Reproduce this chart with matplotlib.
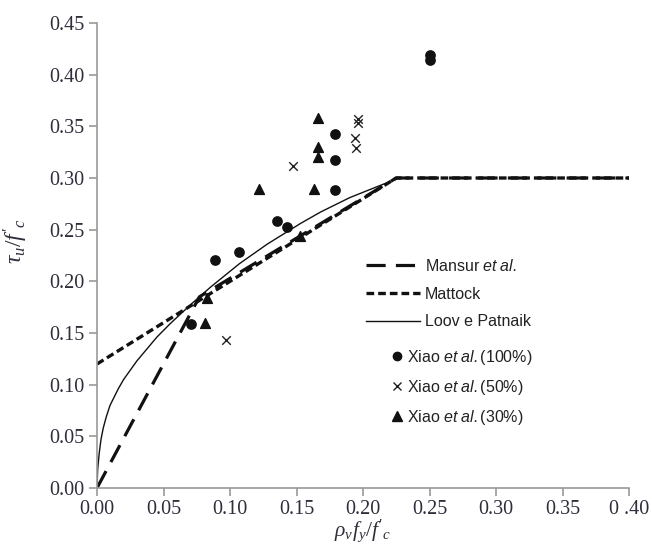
import matplotlib
matplotlib.use("Agg")
import matplotlib.pyplot as plt
from matplotlib.lines import Line2D

plt.rcParams['mathtext.fontset'] = 'custom'
plt.rcParams['mathtext.rm'] = 'Liberation Serif'
plt.rcParams['mathtext.it'] = 'Liberation Serif:italic'
plt.rcParams['mathtext.sf'] = 'Liberation Sans:italic'

# model curves (rho_v f_y / f'c , tau_u / f'c)
mansur_x = [0.0, 0.077, 0.225, 0.40]
mansur_y = [0.0, 0.185, 0.30, 0.30]

mattock_x = [0.0, 0.225, 0.40]
mattock_y = [0.12, 0.30, 0.30]

loov_x = [0.0, 0.0005, 0.0017, 0.003, 0.0047, 0.007, 0.0098, 0.016, 0.020,
          0.030, 0.045, 0.055, 0.070, 0.085, 0.107, 0.128, 0.153, 0.168,
          0.190, 0.225]
loov_y = [0.0, 0.018, 0.034, 0.047, 0.058, 0.069, 0.080, 0.096, 0.105,
          0.123, 0.146, 0.159, 0.177, 0.194, 0.217, 0.236, 0.256, 0.267,
          0.281, 0.299]

# test results
x100 = [0.071, 0.089, 0.107, 0.135, 0.143, 0.179, 0.179, 0.179, 0.250, 0.250]
y100 = [0.159, 0.221, 0.228, 0.258, 0.253, 0.288, 0.317, 0.343, 0.414, 0.419]

x50 = [0.097, 0.147, 0.195, 0.194, 0.196, 0.196]
y50 = [0.143, 0.312, 0.329, 0.339, 0.353, 0.357]

x30 = [0.081, 0.083, 0.122, 0.153, 0.163, 0.166, 0.166, 0.166]
y30 = [0.160, 0.184, 0.289, 0.244, 0.289, 0.320, 0.330, 0.358]

xticks = [0.0, 0.05, 0.10, 0.15, 0.20, 0.25, 0.30, 0.35, 0.40]
xticklabels = ['0.00', '0.05', '0.10', '0.15', '0.20', '0.25', '0.30', '0.35', '0 .40']
yticks = [0.0, 0.05, 0.10, 0.15, 0.20, 0.25, 0.30, 0.35, 0.40, 0.45]
yticklabels = ['%.2f' % v for v in yticks]

fig = plt.figure(figsize=(6.52, 5.51), dpi=100)
ax = fig.add_axes([97 / 652, 1 - 488 / 551, 532 / 652, 465 / 551])

ln_mansur, = ax.plot(mansur_x, mansur_y, color='#111111', lw=2.3,
                     dashes=(6, 3.2), solid_capstyle='butt')
ln_mattock, = ax.plot(mattock_x, mattock_y, color='#111111', lw=2.4,
                      dashes=(2.3, 1.2))
ln_loov, = ax.plot(loov_x, loov_y, color='#111111', lw=1.0)

sc100 = ax.scatter(x100, y100, s=45, marker='o', color='#111111', zorder=3)
sc50 = ax.scatter(x50, y50, s=38, marker='x', color='#222222', linewidths=1.0, zorder=3)
sc30 = ax.scatter(x30, y30, s=50, marker='^', color='#111111', zorder=3)

ax.set_xlim(0, 0.40)
ax.set_ylim(0, 0.45)
ax.set_xticks(xticks)
ax.set_xticklabels(xticklabels)
ax.set_yticks(yticks)
ax.set_yticklabels(yticklabels)

for side in ['top', 'right']:
    ax.spines[side].set_visible(False)
for side in ['left', 'bottom']:
    ax.spines[side].set_color('#9a9a9a')
    ax.spines[side].set_linewidth(1.2)

ax.tick_params(axis='both', direction='out', length=6, width=1.2, color='#9a9a9a',
               labelcolor='#2e2e3c', labelsize=14.5, pad=3)
for lab in ax.get_xticklabels() + ax.get_yticklabels():
    lab.set_family('Liberation Serif')

ax.set_xlabel(r"$\rho_v f_y/f'_c$", fontsize=15.5, color='#2e2e3c')
ax.xaxis.set_label_coords(0.5, -0.064)
ax.set_ylabel(r"$\tau_u/f'_c$", fontsize=17, color='#2e2e3c')
ax.yaxis.set_label_coords(-0.125, 0.53)

# line legend
leg1 = ax.legend([ln_mansur, ln_mattock, ln_loov],
                 [r'Mansur $\mathsf{et\ al.}$', 'Mattock', 'Loov e Patnaik'],
                 loc='upper left', bbox_to_anchor=(0.505, 0.495),
                 frameon=False, handlelength=3.4, handletextpad=0.3,
                 labelspacing=0.8, borderpad=0, borderaxespad=0,
                 prop={'family': 'Liberation Sans', 'size': 11.5})
ax.add_artist(leg1)

# marker legend
mk100 = Line2D([], [], marker='o', ls='none', color='#111111', markersize=6)
mk50 = Line2D([], [], marker='x', ls='none', color='#222222', markersize=5.5, mew=1.0)
mk30 = Line2D([], [], marker='^', ls='none', color='#111111', markersize=6.5)
leg2 = ax.legend([mk100, mk50, mk30],
                 [r'Xiao $\mathsf{et\ al.}$(100%)', r'Xiao $\mathsf{et\ al.}$(50%)',
                  r'Xiao $\mathsf{et\ al.}$(30%)'],
                 loc='upper left', bbox_to_anchor=(0.555, 0.302),
                 frameon=False, handlelength=0.6, handletextpad=0.3,
                 labelspacing=0.7, borderpad=0, borderaxespad=0,
                 prop={'family': 'Liberation Sans', 'size': 11.5})
for t in leg1.get_texts() + leg2.get_texts():
    t.set_color('#222222')

fig.savefig('out.png', dpi=100)
